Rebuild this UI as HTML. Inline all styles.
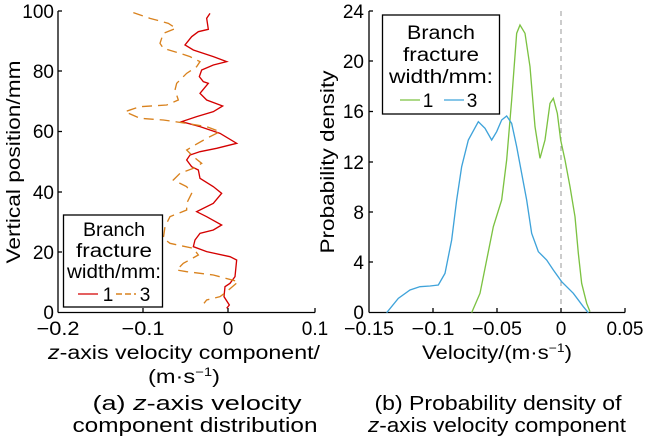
<!DOCTYPE html>
<html><head><meta charset="utf-8"><style>
body{margin:0;background:#fff;}
svg text{font-family:"Liberation Sans",Arial,sans-serif;fill:#000;}
</style></head><body>
<svg width="650" height="439" viewBox="0 0 650 439" xmlns="http://www.w3.org/2000/svg">
<!-- Left axes -->
<g stroke="#000" stroke-width="1.3" fill="none">
<line x1="58" y1="11" x2="58" y2="312.5"/>
<line x1="58" y1="312.5" x2="315" y2="312.5"/>
<line x1="58" y1="11" x2="62" y2="11"/><line x1="58" y1="71" x2="62" y2="71"/><line x1="58" y1="131.5" x2="62" y2="131.5"/><line x1="58" y1="192" x2="62" y2="192"/><line x1="58" y1="252" x2="62" y2="252"/>
<line x1="143" y1="312.5" x2="143" y2="308"/><line x1="228" y1="312.5" x2="228" y2="308"/><line x1="315" y1="312.5" x2="315" y2="308"/>
</g>
<g font-size="19" text-anchor="end">
<text x="54" y="18">100</text><text x="54" y="78">80</text><text x="54" y="138">60</text><text x="54" y="199">40</text><text x="54" y="259">20</text><text x="54" y="319">0</text>
</g>
<g font-size="19" text-anchor="middle">
<text x="58" y="335" textLength="43" lengthAdjust="spacingAndGlyphs">−0.2</text><text x="143" y="335" textLength="43" lengthAdjust="spacingAndGlyphs">−0.1</text><text x="228" y="335">0</text><text x="315" y="335">0.1</text>
</g>
<text font-size="19" transform="translate(20,162) rotate(-90)" text-anchor="middle" textLength="203" lengthAdjust="spacingAndGlyphs">Vertical position/mm</text>
<text font-size="19" x="184" y="359" text-anchor="middle" textLength="272" lengthAdjust="spacingAndGlyphs"><tspan font-style="italic">z</tspan>-axis velocity component/</text>
<text font-size="19" x="184" y="383" text-anchor="middle" textLength="72" lengthAdjust="spacingAndGlyphs">(m·s<tspan font-size="12" dy="-7">−1</tspan><tspan dy="7">)</tspan></text>
<g transform="scale(0.33333)" fill="none" stroke-width="4">
<polyline stroke="#d40000" points="630,40 620,55 625,88 595,95 575,110 555,135 580,150 640,170 680,185 640,195 605,210 598,230 610,245 625,250 600,280 620,300 668,318 640,335 590,350 545,365 600,380 660,400 710,430 650,445 600,455 570,465 560,480 575,500 595,510 600,535 640,560 665,580 640,610 590,635 620,650 665,675 640,690 600,700 585,720 580,740 620,755 690,770 710,780 705,830 690,850 675,860 672,890 688,915 680,925"/>
<polyline stroke="#d9821e" stroke-dasharray="30,18" points="400,38 450,55 505,70 528,85 490,100 480,130 490,145 540,160 570,170 600,185 590,200 560,220 530,250 525,270 535,300 500,315 420,320 375,335 420,355 490,360 560,370 620,380 660,395 620,415 585,435 560,450 580,470 605,490 580,505 540,520 520,540 560,560 575,580 560,610 560,630 510,650 495,680 490,715 510,730 580,745 595,765 550,790 530,810 560,815 640,825 715,845 680,875 660,890 620,900 612,910"/>
</g>
<rect x="63.5" y="215" width="99" height="92" fill="#fff" stroke="#000" stroke-width="1.3"/>
<g font-size="19" text-anchor="middle">
<text x="114" y="236" textLength="62" lengthAdjust="spacingAndGlyphs">Branch</text><text x="114" y="257" textLength="76" lengthAdjust="spacingAndGlyphs">fracture</text><text x="114" y="278" textLength="94" lengthAdjust="spacingAndGlyphs">width/mm:</text>
<text x="108" y="301">1</text><text x="145" y="301">3</text>
</g>
<line x1="78" y1="294" x2="98" y2="294" stroke="#d40000" stroke-width="1.3"/>
<line x1="116" y1="294" x2="136" y2="294" stroke="#d9821e" stroke-width="1.5" stroke-dasharray="6,3"/>
<!-- Right axes -->
<line x1="561" y1="11" x2="561" y2="312" stroke="#999" stroke-width="1" stroke-dasharray="5,4"/>
<g stroke="#000" stroke-width="1.3" fill="none">
<line x1="369" y1="11" x2="369" y2="312.5"/>
<line x1="369" y1="312.5" x2="625" y2="312.5"/>
<line x1="369" y1="11" x2="373" y2="11"/><line x1="369" y1="61" x2="373" y2="61"/><line x1="369" y1="111.5" x2="373" y2="111.5"/><line x1="369" y1="162" x2="373" y2="162"/><line x1="369" y1="212" x2="373" y2="212"/><line x1="369" y1="262" x2="373" y2="262"/>
<line x1="433" y1="312.5" x2="433" y2="308"/><line x1="497" y1="312.5" x2="497" y2="308"/><line x1="561" y1="312.5" x2="561" y2="308"/><line x1="625" y1="312.5" x2="625" y2="308"/>
</g>
<g font-size="19" text-anchor="end">
<text x="364" y="18">24</text><text x="364" y="68">20</text><text x="364" y="118">16</text><text x="364" y="169">12</text><text x="364" y="219">8</text><text x="364" y="269">4</text><text x="364" y="319">0</text>
</g>
<g font-size="19" text-anchor="middle">
<text x="369" y="335" textLength="50" lengthAdjust="spacingAndGlyphs">−0.15</text><text x="433" y="335" textLength="43" lengthAdjust="spacingAndGlyphs">−0.1</text><text x="497" y="335" textLength="50" lengthAdjust="spacingAndGlyphs">−0.05</text><text x="561" y="335">0</text><text x="625" y="335">0.05</text>
</g>
<text font-size="19" transform="translate(334,162) rotate(-90)" text-anchor="middle" textLength="183" lengthAdjust="spacingAndGlyphs">Probability density</text>
<text font-size="19" x="497" y="359" text-anchor="middle" textLength="150" lengthAdjust="spacingAndGlyphs">Velocity/(m·s<tspan font-size="12" dy="-7">−1</tspan><tspan dy="7">)</tspan></text>
<g transform="translate(320,0) scale(0.33333)" fill="none" stroke-width="4">
<polyline stroke="#7cc242" points="455,938 480,880 500,780 520,680 545,600 560,480 575,300 590,100 600,75 615,100 630,200 645,380 660,475 675,420 690,310 700,295 712,340 722,420 735,480 750,560 765,650 775,760 785,850 800,910 810,935"/>
<polyline stroke="#3fa3da" points="200,938 235,895 270,870 300,860 330,858 355,855 375,820 395,720 410,600 425,500 445,420 475,365 495,385 515,420 530,395 545,360 560,348 575,370 590,440 605,520 620,600 635,700 655,755 680,780 700,810 725,845 760,880 790,920 805,938"/>
</g>
<rect x="382.5" y="15" width="117" height="99" fill="#fff" stroke="#000" stroke-width="1.3"/>
<g font-size="19" text-anchor="middle">
<text x="441" y="39" textLength="68" lengthAdjust="spacingAndGlyphs">Branch</text><text x="441" y="61" textLength="76" lengthAdjust="spacingAndGlyphs">fracture</text><text x="441" y="83" textLength="104" lengthAdjust="spacingAndGlyphs">width/mm:</text>
<text x="428" y="107">1</text><text x="472" y="107">3</text>
</g>
<line x1="400" y1="100" x2="420" y2="100" stroke="#7cc242" stroke-width="1.3"/>
<line x1="444" y1="100" x2="464" y2="100" stroke="#3fa3da" stroke-width="1.3"/>
<!-- captions -->
<g font-size="20" text-anchor="middle">
<text x="197" y="410" textLength="209" lengthAdjust="spacingAndGlyphs">(a) <tspan font-style="italic">z</tspan>-axis velocity</text>
<text x="195" y="432" textLength="245" lengthAdjust="spacingAndGlyphs">component distribution</text>
<text x="498" y="410" textLength="247" lengthAdjust="spacingAndGlyphs">(b) Probability density of</text>
<text x="497" y="432" textLength="258" lengthAdjust="spacingAndGlyphs"><tspan font-style="italic">z</tspan>-axis velocity component</text>
</g>
</svg>
</body></html>
